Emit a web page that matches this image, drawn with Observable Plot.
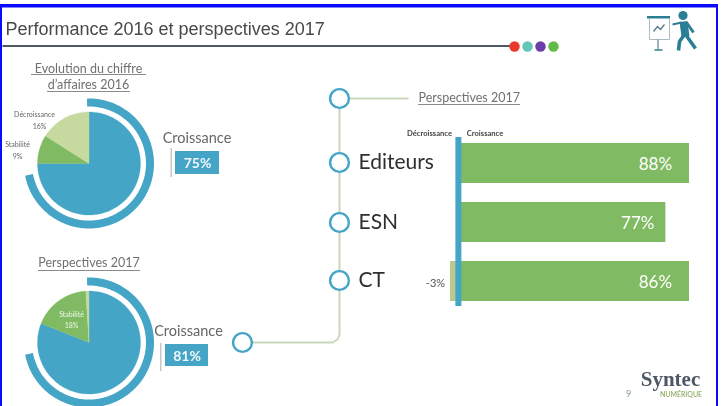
<!DOCTYPE html>
<html><head><meta charset="utf-8">
<script src="https://cdn.jsdelivr.net/npm/d3@7"></script>
<script src="https://cdn.jsdelivr.net/npm/@observablehq/plot@0.6"></script>
<style>html,body{margin:0;padding:0;background:#fff}#c{position:relative;width:721px;height:406px;overflow:hidden}#c svg{position:absolute;left:0;top:0;filter:blur(.4px)}</style>
</head><body><div id="c"></div>
<script>
// data
const sliceNames = ["Croissance","Stabilité","Décroissance"];
const evolution2016 = [75, 9, 16];
const perspectives2017 = [81, 18, 1];
const ringShare = [72, 72];
const categories = ["Editeurs","ESN","CT"];
const growthLabels = [88, 77, 86];
const barLengths = [88, 79, 88];   // bar extents as drawn in the picture
const labelInset = [13, 10.7, 13];
const declineCategories = ["CT"];
const declineValues = [-3];

const BLUE="#45a5c6", GREEN="#80bb63", LIGHT="#c6d99e", GREY="#707070", PALE="#c9d6bb";
const SANS="Lato, 'Open Sans', sans-serif";

function arc(cx,cy,r,from,to,closed){
  const n=Math.max(2,Math.ceil((to-from)*1.5)), pts=closed?[[cx,cy]]:[];
  for(let i=0;i<=n;i++){const a=(from+(to-from)*i/n)/100*2*Math.PI;pts.push([cx+r*Math.sin(a),cy-r*Math.cos(a)]);}
  if(closed)pts.push([cx,cy]);
  return pts;
}
function path(pts,o){return Plot.line(pts.map(([x,y])=>({x,y})),{x:"x",y:"y",strokeLinecap:"butt",...o});}
function pie(cx,cy,r,vals,colors){
  let s=0;
  return vals.map((v,i)=>{const m=path(arc(cx,cy,r,s,s+v,true),{fill:colors[i],stroke:colors[i],strokeWidth:.3});s+=v;return m;});
}
function label(items,o){return Plot.text(items,{x:d=>d[0],y:d=>d[1],text:d=>d[2],fontFamily:SANS,...o});}
function under(x1,x2,y,c="#8a8a8a"){return Plot.ruleY([y],{x1:()=>x1,x2:()=>x2,stroke:c,strokeWidth:1});}

const box=(x1,x2,y1,y2,fill)=>Plot.rect([0],{x1:()=>x1,x2:()=>x2,y1:()=>y1,y2:()=>y2,fill});

const decor=Plot.plot({
  width:721,height:406,margin:0,
  x:{domain:[0,721],range:[0,721],axis:null},
  y:{domain:[0,406],range:[0,406],axis:null},
  style:{background:"transparent"},
  marks:[
    // frame
    box(0,718,4,7.5,"#0a0aff"), box(0,2,4,406,"#0a0aff"), box(716,718,4,406,"#0a0aff"),
    // title
    Plot.text(["Performance 2016 et perspectives 2017"],{x:()=>5,y:()=>29,text:d=>d,textAnchor:"start",fontFamily:"'Liberation Sans',Arial,sans-serif",fontSize:18,fill:"#484848"}),
    path([[2,45.5],[510,45.5]],{stroke:"#4d5866",strokeWidth:2}),
    Plot.dot(["#e8392b","#62c6b8","#6c3fa8","#62bb46"],{x:(d,i)=>514+i*13,y:()=>46,r:5.2,fill:d=>d,stroke:"none"}),
    // icon
    box(647,670,16,18.5,"#2b7f95"),
    path([[649,18],[649,39],[669,39],[669,18]],{stroke:"#a9bcc4",strokeWidth:1}),
    path([[653,31],[657,26],[660,29],[664,24]],{stroke:"#5a7a85",strokeWidth:1.3}),
    path([[657.5,39],[657.5,49]],{stroke:"#7d9aa5",strokeWidth:1.5}),
    path([[654,49.5],[662,49.5]],{stroke:"#2b7f95",strokeWidth:1.5}),
    Plot.dot([0],{x:()=>682.5,y:()=>15,r:4.6,fill:"#2b7f95",stroke:"none"}),
    path([[683,21],[685,36]],{stroke:"#2b7f95",strokeWidth:8}),
    path([[684,34],[679,41],[678,50]],{stroke:"#2b7f95",strokeWidth:3.6}),
    path([[685,34],[690,41],[695,48]],{stroke:"#2b7f95",strokeWidth:3.6}),
    path([[681,22],[672,24]],{stroke:"#2b7f95",strokeWidth:2}),
    path([[686,22],[693,32]],{stroke:"#2b7f95",strokeWidth:3}),
    // first pie
    label([[88,68,"Evolution du chiffre"],[88,84,"d’affaires 2016"]],{fontSize:12.5,fill:GREY}),
    under(31,146,74), under(47,130,91),
    ...pie(88.5,163,51.5,evolution2016,[BLUE,GREEN,LIGHT]),
    path(arc(88.5,163,61,-0.5,ringShare[0]),{stroke:BLUE,strokeWidth:8}),
    label([[34,114,sliceNames[2]],[39,126,evolution2016[2]+"%"],[17,144,sliceNames[1]],[17,156,evolution2016[1]+"%"]],{fontSize:7,fill:"#666"}),
    label([[196.5,138,sliceNames[0]]],{fontSize:14.5,fill:"#666",letterSpacing:.5}),
    box(170.5,172,148,177,"#c8c8c8"),
    box(175,219,151,174,BLUE),
    label([[197,163,evolution2016[0]+"%"]],{fontSize:14,fontWeight:"bold",fill:"#f2f8fa"}),
    // second pie
    label([[88.5,262,"Perspectives 2017"]],{fontSize:12.5,fill:GREY}),
    under(38,140,270),
    ...pie(88.5,342,51.5,perspectives2017,[BLUE,GREEN,LIGHT]),
    path(arc(88.5,342,61,-0.5,ringShare[1]),{stroke:BLUE,strokeWidth:8}),
    label([[71,314,sliceNames[1]],[71,325,perspectives2017[1]+"%"]],{fontSize:7,fill:"#eef6e8"}),
    label([[188,331,sliceNames[0]]],{fontSize:14.5,fill:"#666"}),
    box(160,161.5,343,371,"#c8c8c8"),
    box(165,208,344,366,BLUE),
    label([[186.5,356,perspectives2017[0]+"%"]],{fontSize:14,fontWeight:"bold",fill:"#f2f8fa"}),
    // timeline
    path([[339,98],[339,334],[337,339],[332,342],[245,342]],{stroke:PALE,strokeWidth:2}),
    path([[339,98],[408,98]],{stroke:PALE,strokeWidth:2}),
    Plot.dot([[339,98],[339,162],[339,222],[339,280],[242,342]],{x:d=>d[0],y:d=>d[1],r:9.4,fill:"#fff",stroke:BLUE,strokeWidth:2.4}),
    label([[418,97,"Perspectives 2017"]],{fontSize:12.5,fill:GREY,textAnchor:"start"}),
    under(418,520,104),
    label(categories.map((c,i)=>[358,[162,222,280][i],c]),{fontSize:21,fill:"#2f2f2f",textAnchor:"start"}),
    label([[429,133.5,"Décroissance"],[484.5,133,"Croissance"]],{fontSize:7.6,fontWeight:"bold",fill:"#444"}),
    // logo
    Plot.text(["Syntec"],{x:()=>670,y:()=>379,text:d=>d,fontFamily:"'Liberation Serif',serif",fontSize:21,fill:"#4d5866",fontWeight:"bold"}),
    label([[680.5,394.5,"NUMÉRIQUE"]],{fontSize:7,fill:"#7fa04f"}),
    label([[628,394,"9"]],{fontSize:9,fill:"#7fa07f"})
  ]
});

const rows=categories.map((c,i)=>({c,len:barLengths[i],lab:growthLabels[i],inset:labelInset[i]}));
const decl=declineCategories.map((c,i)=>({c,v:declineValues[i]}));
const bars=Plot.plot({
  width:721,height:406,marginTop:137,marginBottom:100,marginLeft:0,marginRight:0,
  x:{domain:[-3,88],range:[450,689],axis:null},
  y:{domain:categories,range:[123,321],padding:.33,axis:null},
  style:{background:"transparent"},
  marks:[
    Plot.barX(rows,{x1:()=>0,x2:"len",y:"c",fill:GREEN}),
    Plot.barX(decl,{x1:()=>0,x2:"v",y:"c",fill:"#bcc98f"}),
    Plot.ruleX([0],{stroke:BLUE,strokeWidth:6}),
    Plot.text(rows,{x:d=>d.len-d.inset,y:"c",text:d=>d.lab+"%",dy:1,fontFamily:SANS,fontSize:17,fill:"#fff"}),
    Plot.text(decl,{x:"v",y:"c",text:d=>d.v+"%",dx:-15,dy:2,fontFamily:SANS,fontSize:11,fill:"#555"})
  ]
});
const c=document.getElementById("c");c.append(decor,bars);
</script></body></html>
